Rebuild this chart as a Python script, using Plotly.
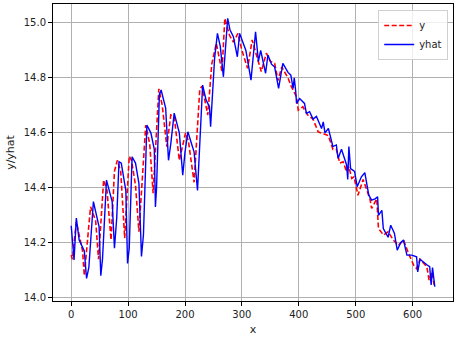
import plotly.graph_objects as go

# red dashed series "y"
y_x = [0, 2, 9, 15, 20, 23, 29, 34, 43, 48, 57, 63, 70, 76, 81, 87, 94, 102, 106, 113, 119,
       131, 138, 144, 154, 160, 168, 175, 181, 190, 201, 206, 216, 226, 230, 240, 247, 255,
       265, 270, 278, 285, 293, 300, 310, 318, 326, 334, 343, 350, 357.5, 363.5, 370, 381,
       387, 396, 399, 407, 416, 425, 434, 443, 452, 460, 466, 472, 478, 484, 488, 493, 497,
       504, 513, 525, 528, 537, 540, 549, 557, 566, 575, 584, 593, 602, 607, 613, 625, 629,
       634, 638]
y_v = [14.155, 14.14, 14.276, 14.22, 14.17, 14.08, 14.23, 14.331, 14.28, 14.14, 14.428, 14.39,
       14.21, 14.46, 14.50, 14.46, 14.217, 14.515, 14.50, 14.41, 14.24, 14.628, 14.56, 14.38,
       14.76, 14.70, 14.55, 14.665, 14.66, 14.50, 14.60, 14.57, 14.42, 14.76, 14.77, 14.665,
       14.85, 14.926, 14.823, 15.017, 14.956, 14.93, 14.962, 14.90, 14.835, 14.938, 14.88,
       14.823, 14.89, 14.86, 14.853, 14.79, 14.84, 14.80, 14.768, 14.731, 14.683, 14.695,
       14.664, 14.65, 14.604, 14.597, 14.59, 14.54, 14.54, 14.49, 14.495, 14.458, 14.477,
       14.434, 14.44, 14.373, 14.43, 14.36, 14.325, 14.36, 14.252, 14.228, 14.24, 14.21,
       14.19, 14.21, 14.16, 14.118, 14.106, 14.14, 14.113, 14.064, 14.094, 14.046]

# blue solid series "yhat"
yhat_x = [0, 5, 9, 14, 23, 27, 31, 39, 49, 52, 55, 62, 72, 76, 80, 84, 88, 96, 99, 102, 107,
          113, 119, 123.5, 127, 133, 140, 146, 148, 150, 155, 158, 166, 171, 175, 181, 190,
          196, 200, 205, 216, 222, 231, 237, 243, 245, 252, 257, 262, 267.5, 275, 279, 285,
          292, 296, 307, 316, 324, 329, 333, 341.6, 345.7, 352, 357.5, 364.5, 372, 381, 386,
          390, 392, 394.6, 396, 401.5, 410, 413.4, 419, 425, 431, 440, 443, 446, 452, 460,
          466, 469, 475, 484, 486, 488, 491, 498, 502.6, 510, 516, 523, 528, 534, 538.5, 540,
          546, 548.5, 557, 561.5, 568, 573, 579, 584, 590, 598.6, 607, 609, 613, 625, 630,
          632.6, 635, 639]
yhat_v = [14.262, 14.137, 14.29, 14.21, 14.17, 14.07, 14.11, 14.35, 14.258, 14.08, 14.14,
          14.428, 14.35, 14.18, 14.29, 14.495, 14.49, 14.39, 14.125, 14.18, 14.513, 14.49,
          14.416, 14.15, 14.23, 14.628, 14.60, 14.54, 14.33, 14.40, 14.74, 14.756, 14.69,
          14.50, 14.56, 14.672, 14.60, 14.446, 14.53, 14.604, 14.53, 14.39, 14.774, 14.72,
          14.695, 14.622, 14.871, 14.962, 14.915, 14.804, 15.017, 14.975, 14.95, 14.877,
          14.962, 14.90, 14.792, 14.968, 14.86, 14.90, 14.817, 14.883, 14.85, 14.84, 14.762,
          14.853, 14.82, 14.81, 14.762, 14.80, 14.75, 14.707, 14.725, 14.707, 14.671, 14.677,
          14.65, 14.66, 14.616, 14.64, 14.60, 14.616, 14.55, 14.556, 14.507, 14.54, 14.483,
          14.43, 14.55, 14.47, 14.46, 14.404, 14.44, 14.455, 14.373, 14.355, 14.36, 14.367,
          14.30, 14.318, 14.252, 14.22, 14.264, 14.235, 14.173, 14.20, 14.21, 14.155, 14.155,
          14.149, 14.094, 14.14, 14.12, 14.113, 14.046, 14.11, 14.04]

x_ticks = [0, 100, 200, 300, 400, 500, 600]
y_ticks = [14.0, 14.2, 14.4, 14.6, 14.8, 15.0]

fig = go.Figure()
fig.add_trace(go.Scatter(x=y_x, y=y_v, mode="lines", name="y",
                         line=dict(color="#ff0000", width=1.6, dash="5px,2.5px")))
fig.add_trace(go.Scatter(x=yhat_x, y=yhat_v, mode="lines", name="yhat",
                         line=dict(color="#0000ff", width=1.4)))

axis_common = dict(showline=True, linecolor="black", linewidth=1, mirror=True,
                   ticks="outside", ticklen=4, tickcolor="black", tickwidth=1,
                   showgrid=True, gridcolor="#b0b0b0", gridwidth=0.8, zeroline=False,
                   automargin=False,
                   tickfont=dict(family="DejaVu Sans", size=10, color="#222"))

fig.update_layout(
    width=459, height=338,
    margin=dict(l=53, r=6, t=4, b=37),
    paper_bgcolor="white", plot_bgcolor="white",
    font=dict(family="DejaVu Sans", size=10, color="#222"),
    xaxis=dict(range=[-32, 671], tickvals=x_ticks,
               title=dict(text="x", font=dict(size=11), standoff=6), **axis_common),
    yaxis=dict(range=[13.988, 15.069], tickvals=y_ticks, tickformat=".1f",
               title=dict(text="y/yhat", font=dict(size=11), standoff=6), **axis_common),
    legend=dict(x=0.988, y=0.98, xanchor="right", yanchor="top",
                bgcolor="rgba(255,255,255,0.8)", bordercolor="#d0d0d0", borderwidth=1,
                font=dict(size=10), itemwidth=30, tracegroupgap=0),
    showlegend=True,
)

fig.write_html("out.html", config={"displayModeBar": False},
               post_script="document.body.style.margin='0';document.body.style.overflow='hidden';")
